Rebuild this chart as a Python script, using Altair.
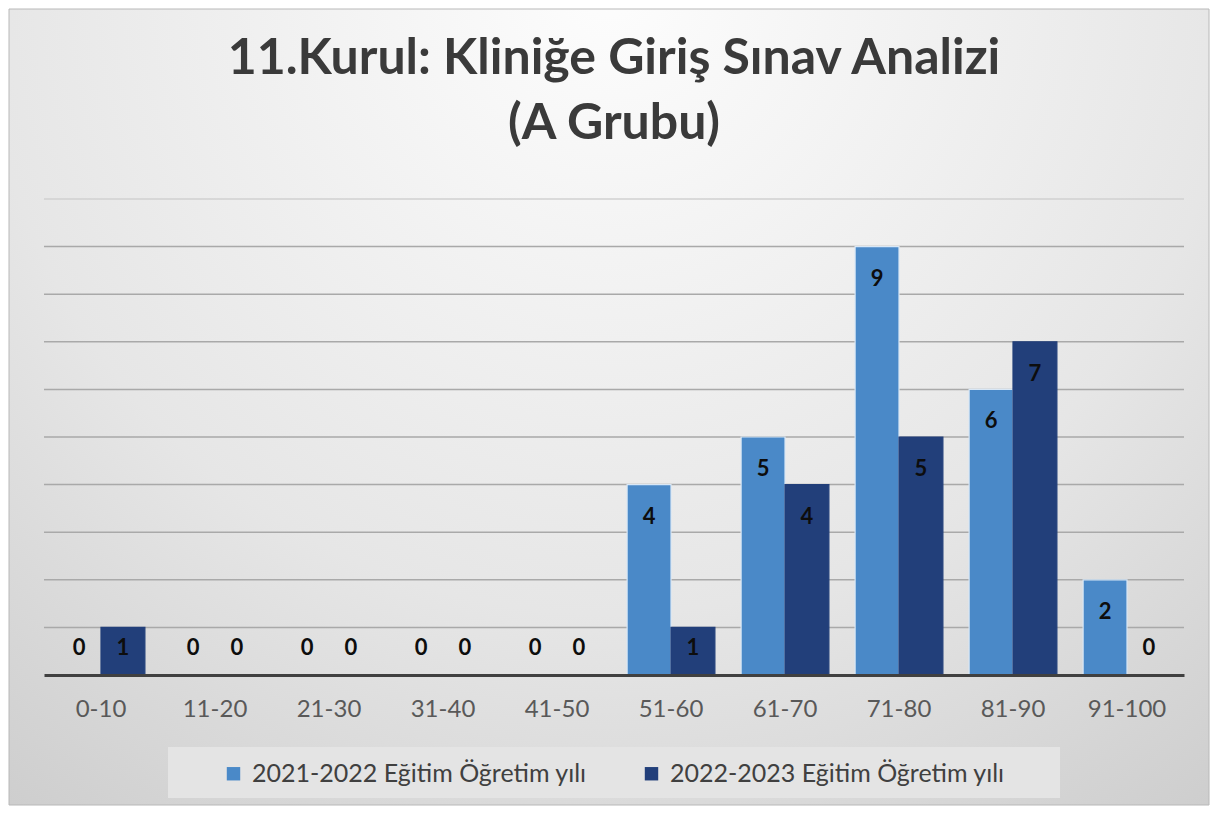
import altair as alt
import pandas as pd

categories = ["0-10", "11-20", "21-30", "31-40", "41-50",
              "51-60", "61-70", "71-80", "81-90", "91-100"]
series_names = ["2021-2022 Eğitim Öğretim yılı", "2022-2023 Eğitim Öğretim yılı"]
values_2021 = [0, 0, 0, 0, 0, 4, 5, 9, 6, 2]
values_2022 = [1, 0, 0, 0, 0, 1, 4, 5, 7, 0]
grid_values = [1, 2, 3, 4, 5, 6, 7, 8, 9, 10]
title_lines = ["11.Kurul: Kliniğe Giriş Sınav Analizi", "(A Grubu)"]
colors = ["#4a89c8", "#223f7a"]

rows = []
for c, a, b in zip(categories, values_2021, values_2022):
    rows.append({"cat": c, "series": series_names[0], "value": a})
    rows.append({"cat": c, "series": series_names[1], "value": b})
df = pd.DataFrame(rows)
grid_df = pd.DataFrame({"g": grid_values})
one = pd.DataFrame({"k": [0]})

W, H = 1140, 476
FONT = "Lato"

xscale = alt.Scale(domain=categories, paddingInner=0.23, paddingOuter=0.115)
yscale = alt.Scale(domain=[0, 10], nice=False, zero=True)
x_axis = alt.Axis(title=None, labelFont=FONT, labelFontSize=24, labelColor="#595959",
                  labelPadding=34, labelBaseline="middle", ticks=False, tickSize=0,
                  domainColor="#404040", domainWidth=3, grid=False, labelAngle=0, zindex=1)
x_enc = alt.X("cat:N", scale=xscale, sort=categories, axis=x_axis)
xo_enc = alt.XOffset("series:N", sort=series_names,
                     scale=alt.Scale(domain=series_names, paddingInner=0, paddingOuter=0))

bg = alt.Chart(one).mark_rect(
    fill=alt.Gradient(
        gradient="radial",
        stops=[alt.GradientStop(color="#fdfdfd", offset=0),
               alt.GradientStop(color="#e6e6e6", offset=0.55),
               alt.GradientStop(color="#c6c6c6", offset=1)],
        x1=0.5, y1=0.15, r1=0, x2=0.5, y2=0.15, r2=0.95),
    stroke="#b8b8b8", strokeWidth=1,
).encode(x=alt.value(-35), x2=alt.value(1165), y=alt.value(-190), y2=alt.value(606))

legend_box = alt.Chart(one).mark_rect(fill="#e4e4e4").encode(
    x=alt.value(124), x2=alt.value(1016), y=alt.value(548), y2=alt.value(599))

grid = alt.Chart(grid_df).mark_rule(strokeWidth=1.5).encode(
    y=alt.Y("g:Q", scale=yscale, axis=None),
    color=alt.condition("datum.g == 10", alt.value("#d0d0d0"), alt.value("#a9a9a9")),
)

bars = alt.Chart(df).mark_bar(strokeWidth=1.2).encode(
    x=x_enc,
    xOffset=xo_enc,
    y=alt.Y("value:Q", scale=yscale, axis=None),
    color=alt.Color("series:N", scale=alt.Scale(domain=series_names, range=colors),
                    legend=alt.Legend(title=None, orient="none", legendX=177, legendY=562,
                                      direction="horizontal", symbolType="square",
                                      symbolSize=180, symbolStrokeWidth=0,
                                      labelFont=FONT, labelFontSize=25, labelColor="#404040",
                                      labelOffset=6, labelLimit=600, columnPadding=52)),
    stroke=alt.Stroke("series:N", scale=alt.Scale(domain=series_names,
                                                  range=["#d8e7f6", "#223f7a"]), legend=None),
)

text_style = dict(font=FONT, fontSize=22, fontWeight="bold", color="#0d0d0d", baseline="middle")
lab_hi = alt.Chart(df).transform_filter("datum.value >= 2").mark_text(dy=32, **text_style).encode(
    x=x_enc, xOffset=xo_enc, y=alt.Y("value:Q", scale=yscale, axis=None), text="value:Q")
lab_lo = alt.Chart(df).transform_filter("datum.value < 2").mark_text(dy=-27, **text_style).encode(
    x=x_enc, xOffset=xo_enc, y=alt.datum(0), text="value:Q")

chart = alt.layer(bg, legend_box, grid, bars, lab_hi, lab_lo).properties(
    width=W, height=H,
    title=alt.TitleParams(text=title_lines, font=FONT, fontSize=50, fontWeight="bold",
                          color="#3a3a3a", lineHeight=65, anchor="middle", frame="group",
                          offset=-140),
).configure(padding=0, background="#ffffff").configure_view(stroke=None)

chart.save("out.html", embed_options={"renderer": "svg", "actions": False})
